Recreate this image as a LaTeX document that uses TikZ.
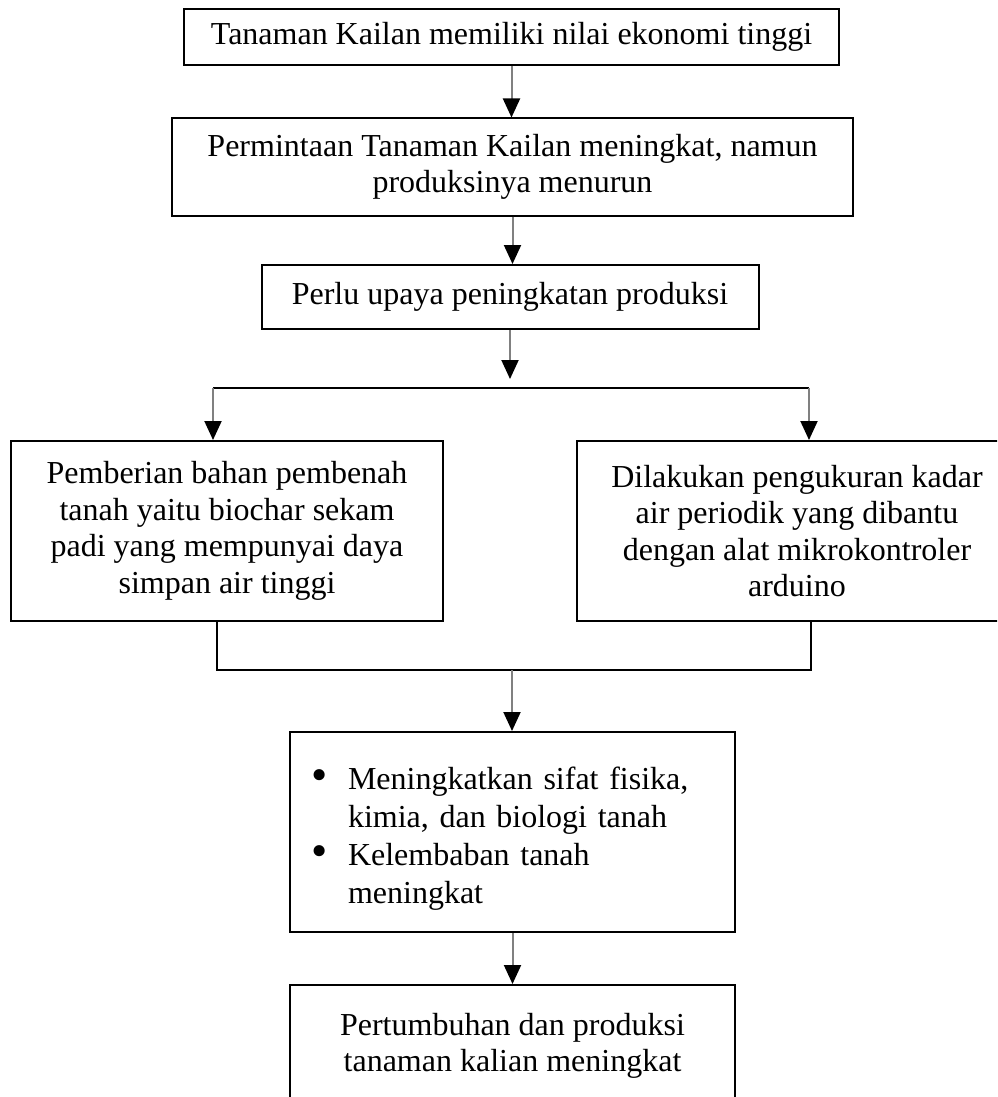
\documentclass[tikz,border=0pt]{standalone}
\usepackage{fontspec}
\setmainfont{Liberation Serif}
\usetikzlibrary{arrows.meta}
\newcommand{\bigbul}{\makebox[18.5pt][l]{\raisebox{-0.5pt}{\scalebox{1.45}{\textbullet}}}}
\begin{document}
\begin{tikzpicture}[x=0.5pt,y=-0.5pt,
  box/.style={draw=black, line width=1pt, align=center, inner sep=0pt,
              font=\fontsize{16}{18.3}\selectfont},
  txt/.style={align=center, inner sep=0pt, font=\fontsize{16}{18.3}\selectfont},
  conn/.style={draw=black, line width=1pt},
  arr/.style={draw=black!50, line width=1pt,
              -{Triangle[width=8.5pt,length=9.5pt,color=black]}}]
\useasboundingbox (0,0) rectangle (997,1097);
\fill[white] (0,0) rectangle (997,1097);
\clip (0,0) rectangle (997,1097);

% boxes
\node[box, minimum width=327.5pt, minimum height=28pt] (b1) at (511.5,37)
  {Tanaman Kailan memiliki nilai ekonomi tinggi};
\node[box, minimum width=340.5pt, minimum height=48.5pt] (b2) at (512.5,167)
  {Permintaan Tanaman Kailan meningkat, namun\\produksinya menurun};
\node[box, minimum width=248.5pt, minimum height=32pt] (b3) at (510,297)
  {Perlu upaya peningkatan produksi};
\node[box, minimum width=216pt, minimum height=90pt] (bL) at (227,531)
  {Pemberian bahan pembenah\\tanah yaitu biochar sekam\\padi yang mempunyai daya\\simpan air tinggi};
\node[box, minimum width=220pt, minimum height=90pt] (bR) at (797,531)
  {Dilakukan pengukuran kadar\\air periodik yang dibantu\\dengan alat mikrokontroler\\arduino};
\node[box, minimum width=222.5pt, minimum height=100pt] (b4) at (512.5,832) {};
\node[txt, text width=201.5pt, align=left, font=\fontsize{16}{19}\selectfont] (t4)
  at (512.5,839)
  {\bigbul Meningkatkan sifat fisika,\\
   \hspace*{18.5pt}kimia, dan biologi tanah\\
   \bigbul Kelembaban tanah\\
   \hspace*{18.5pt}meningkat};
\node[box, minimum width=222.5pt, minimum height=82.5pt] (b5) at (512.5,1067.5) {};
\node[txt] (t5) at (512.5,1046)
  {Pertumbuhan dan produksi\\tanaman kalian meningkat};

% junction points
\coordinate (a3) at (510,379);
\coordinate (jl) at (213,388);
\coordinate (jr) at (809,388);
\coordinate (cl) at (217,670);
\coordinate (cr) at (811,670);
\coordinate (cm) at (512,670);

% connectors
\draw[arr] (b1.south) -- (b1.south |- b2.north);
\draw[arr] (b2.south) -- (b2.south |- b3.north);
\draw[arr] (b3.south) -- (a3);
\draw[conn] (jl) -- (jr);
\draw[arr] (jl) -- (jl |- bL.north);
\draw[arr] (jr) -- (jr |- bR.north);
\draw[conn] (cl |- bL.south) -- (cl) -- (cr) -- (cr |- bR.south);
\draw[arr] (cm) -- (cm |- b4.north);
\draw[arr] (b4.south) -- (b4.south |- b5.north);
\end{tikzpicture}
\end{document}
